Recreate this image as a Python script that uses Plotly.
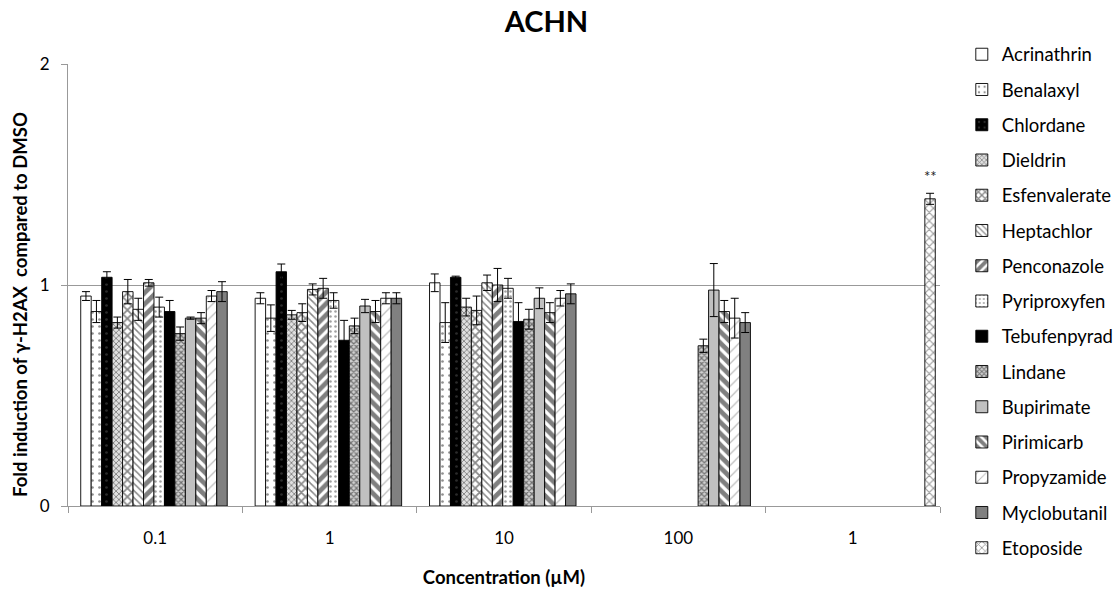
import plotly.graph_objects as go

# ---------------- data ----------------
group_labels = ["0.1", "1", "10", "100", "1"]

series_names = ["Acrinathrin", "Benalaxyl", "Chlordane", "Dieldrin", "Esfenvalerate",
                "Heptachlor", "Penconazole", "Pyriproxyfen", "Tebufenpyrad", "Lindane",
                "Bupirimate", "Pirimicarb", "Propyzamide", "Myclobutanil", "Etoposide"]

acrinathrin   = [0.95, 0.94, 1.01, None, None]
benalaxyl     = [0.88, 0.85, 0.83, None, None]
chlordane     = [1.035, 1.06, 1.035, None, None]
dieldrin      = [0.83, 0.865, 0.90, None, None]
esfenvalerate = [0.97, 0.875, 0.885, None, None]
heptachlor    = [0.89, 0.98, 1.01, None, None]
penconazole   = [1.01, 0.985, 1.00, None, None]
pyriproxyfen  = [0.90, 0.93, 0.985, None, None]
tebufenpyrad  = [0.88, 0.75, 0.835, None, None]
lindane       = [0.78, 0.815, 0.845, 0.725, None]
bupirimate    = [0.85, 0.905, 0.94, 0.977, None]
pirimicarb    = [0.85, 0.88, 0.875, 0.88, None]
propyzamide   = [0.95, 0.94, 0.94, 0.85, None]
myclobutanil  = [0.97, 0.94, 0.96, 0.83, None]
etoposide     = [None, None, None, None, 1.39]

acrinathrin_err   = [0.02, 0.025, 0.04, 0, 0]
benalaxyl_err     = [0.05, 0.06, 0.09, 0, 0]
chlordane_err     = [0.025, 0.035, 0.005, 0, 0]
dieldrin_err      = [0.025, 0.02, 0.04, 0, 0]
esfenvalerate_err = [0.055, 0.04, 0.065, 0, 0]
heptachlor_err    = [0.05, 0.025, 0.035, 0, 0]
penconazole_err   = [0.015, 0.045, 0.075, 0, 0]
pyriproxyfen_err  = [0.045, 0.035, 0.045, 0, 0]
tebufenpyrad_err  = [0.05, 0.09, 0.085, 0, 0]
lindane_err       = [0.03, 0.035, 0.045, 0.03, 0]
bupirimate_err    = [0.005, 0.03, 0.047, 0.12, 0]
pirimicarb_err    = [0.025, 0.05, 0.045, 0.05, 0]
propyzamide_err   = [0.025, 0.025, 0.035, 0.09, 0]
myclobutanil_err  = [0.045, 0.025, 0.045, 0.045, 0]
etoposide_err     = [0, 0, 0, 0, 0.025]

values = [acrinathrin, benalaxyl, chlordane, dieldrin, esfenvalerate, heptachlor,
          penconazole, pyriproxyfen, tebufenpyrad, lindane, bupirimate, pirimicarb,
          propyzamide, myclobutanil, etoposide]
errors = [acrinathrin_err, benalaxyl_err, chlordane_err, dieldrin_err, esfenvalerate_err,
          heptachlor_err, penconazole_err, pyriproxyfen_err, tebufenpyrad_err, lindane_err,
          bupirimate_err, pirimicarb_err, propyzamide_err, myclobutanil_err, etoposide_err]

significance_text = "**"
significance_series = 14
significance_group = 4

y_title = "<b>Fold induction of γ-H2AX  compared to DMSO</b>"
x_title = "<b>Concentration (µM)</b>"

# ---------------- styles ----------------
styles = [
    dict(color="white"),
    dict(color="white", pattern=dict(shape=".", fgcolor="#222", bgcolor="white", size=7, solidity=0.12)),
    dict(color="black", pattern=dict(shape=".", fgcolor="#555", bgcolor="black", size=7, solidity=0.12)),
    dict(color="#888", pattern=dict(shape="x", fgcolor="#222", bgcolor="#e0e0e0", size=4, solidity=0.4)),
    dict(color="#666", pattern=dict(shape="x", fgcolor="#111", bgcolor="white", size=6, solidity=0.5)),
    dict(color="white", pattern=dict(shape="\\", fgcolor="#111", bgcolor="white", size=5, solidity=0.3)),
    dict(color="white", pattern=dict(shape="/", fgcolor="black", bgcolor="white", size=8, solidity=0.6)),
    dict(color="white", pattern=dict(shape=".", fgcolor="#444", bgcolor="white", size=5, solidity=0.2)),
    dict(color="black"),
    dict(color="#777", pattern=dict(shape="x", fgcolor="#111", bgcolor="#d0d0d0", size=4, solidity=0.5)),
    dict(color="#c0c0c0"),
    dict(color="white", pattern=dict(shape="\\", fgcolor="black", bgcolor="white", size=8, solidity=0.6)),
    dict(color="white", pattern=dict(shape="/", fgcolor="#777", bgcolor="white", size=8, solidity=0.15)),
    dict(color="#808080"),
    dict(color="white", pattern=dict(shape="x", fgcolor="#333", bgcolor="white", size=6, solidity=0.35)),
]

FONT = "Lato, Open Sans, sans-serif"
x_pos = list(range(len(group_labels)))

n_series = len(series_names)
bargap = 0.1
slot = (1 - bargap) / n_series
group_shift = 0.023  # the original's bars sit slightly right of the category centre

fig = go.Figure()
for i, name in enumerate(series_names):
    st = styles[i]
    marker = dict(color=st["color"], line=dict(color="black", width=0.9))
    if "pattern" in st:
        marker["pattern"] = st["pattern"]
    fig.add_trace(go.Bar(
        x=x_pos, y=values[i], name=name, marker=marker,
        legendgroup=name,
        width=slot, offset=-(1 - bargap) / 2 + slot * i + group_shift,
        error_y=dict(type="data", array=errors[i], visible=True,
                     color="black", thickness=1, width=4),
    ))

# significance marker placed above the Etoposide bar of the last group
sig_offset = -(1 - bargap) / 2 + slot * (significance_series + 0.5) + group_shift
fig.add_annotation(
    x=x_pos[significance_group] + sig_offset,
    y=values[significance_series][significance_group] + errors[significance_series][significance_group],
    xref="x", yref="y", text=significance_text, showarrow=False,
    yanchor="bottom", yshift=6, font=dict(family=FONT, size=15, color="#222"),
)

# y-axis title (placed like the original, slightly below centre)
fig.add_annotation(
    x=-0.055, y=0.455, xref="paper", yref="paper", text=y_title,
    textangle=-90, showarrow=False, xanchor="center", yanchor="middle",
    font=dict(family=FONT, size=18.5, color="black"),
)

fig.update_layout(
    width=1113, height=592,
    paper_bgcolor="white", plot_bgcolor="white",
    barmode="group", bargap=bargap, bargroupgap=0,
    margin=dict(l=68, r=173, t=64, b=86, autoexpand=False),
    font=dict(family=FONT, color="black", size=17),
    title=dict(text="<b>ACHN</b>", x=0.491, xref="container", xanchor="center",
               y=0.963, yref="container", yanchor="middle",
               font=dict(family=FONT, size=29, color="black")),
    showlegend=True,
    legend=dict(x=1.025, xanchor="left", y=1.064, yanchor="top",
                traceorder="grouped", tracegroupgap=8.2, maxheight=600,
                font=dict(family=FONT, size=18.5, color="black"),
                bgcolor="rgba(0,0,0,0)", itemwidth=30),
    xaxis=dict(
        range=[-0.5, len(group_labels) - 0.5],
        tickmode="array", tickvals=x_pos, ticktext=group_labels,
        ticks="", showgrid=False, zeroline=False,
        showline=True, linecolor="#999", linewidth=1,
        tickfont=dict(family=FONT, size=17), ticklabelstandoff=17,
        minor=dict(tickmode="linear", tick0=-0.5, dtick=1, ticks="outside",
                   ticklen=6, tickcolor="#999", showgrid=False),
        title=dict(text=x_title, font=dict(family=FONT, size=18.5), standoff=23),
    ),
    yaxis=dict(
        range=[0, 2], tickmode="array", tickvals=[0, 1, 2],
        ticks="outside", ticklen=6, tickcolor="#999",
        showgrid=True, gridcolor="#999", gridwidth=1,
        zeroline=False, showline=True, linecolor="#999", linewidth=1,
        tickfont=dict(family=FONT, size=17), ticklabelstandoff=8,
    ),
)

fig.write_html("out.html", post_script="document.body.style.margin='0px';",
               config={"displayModeBar": False})
